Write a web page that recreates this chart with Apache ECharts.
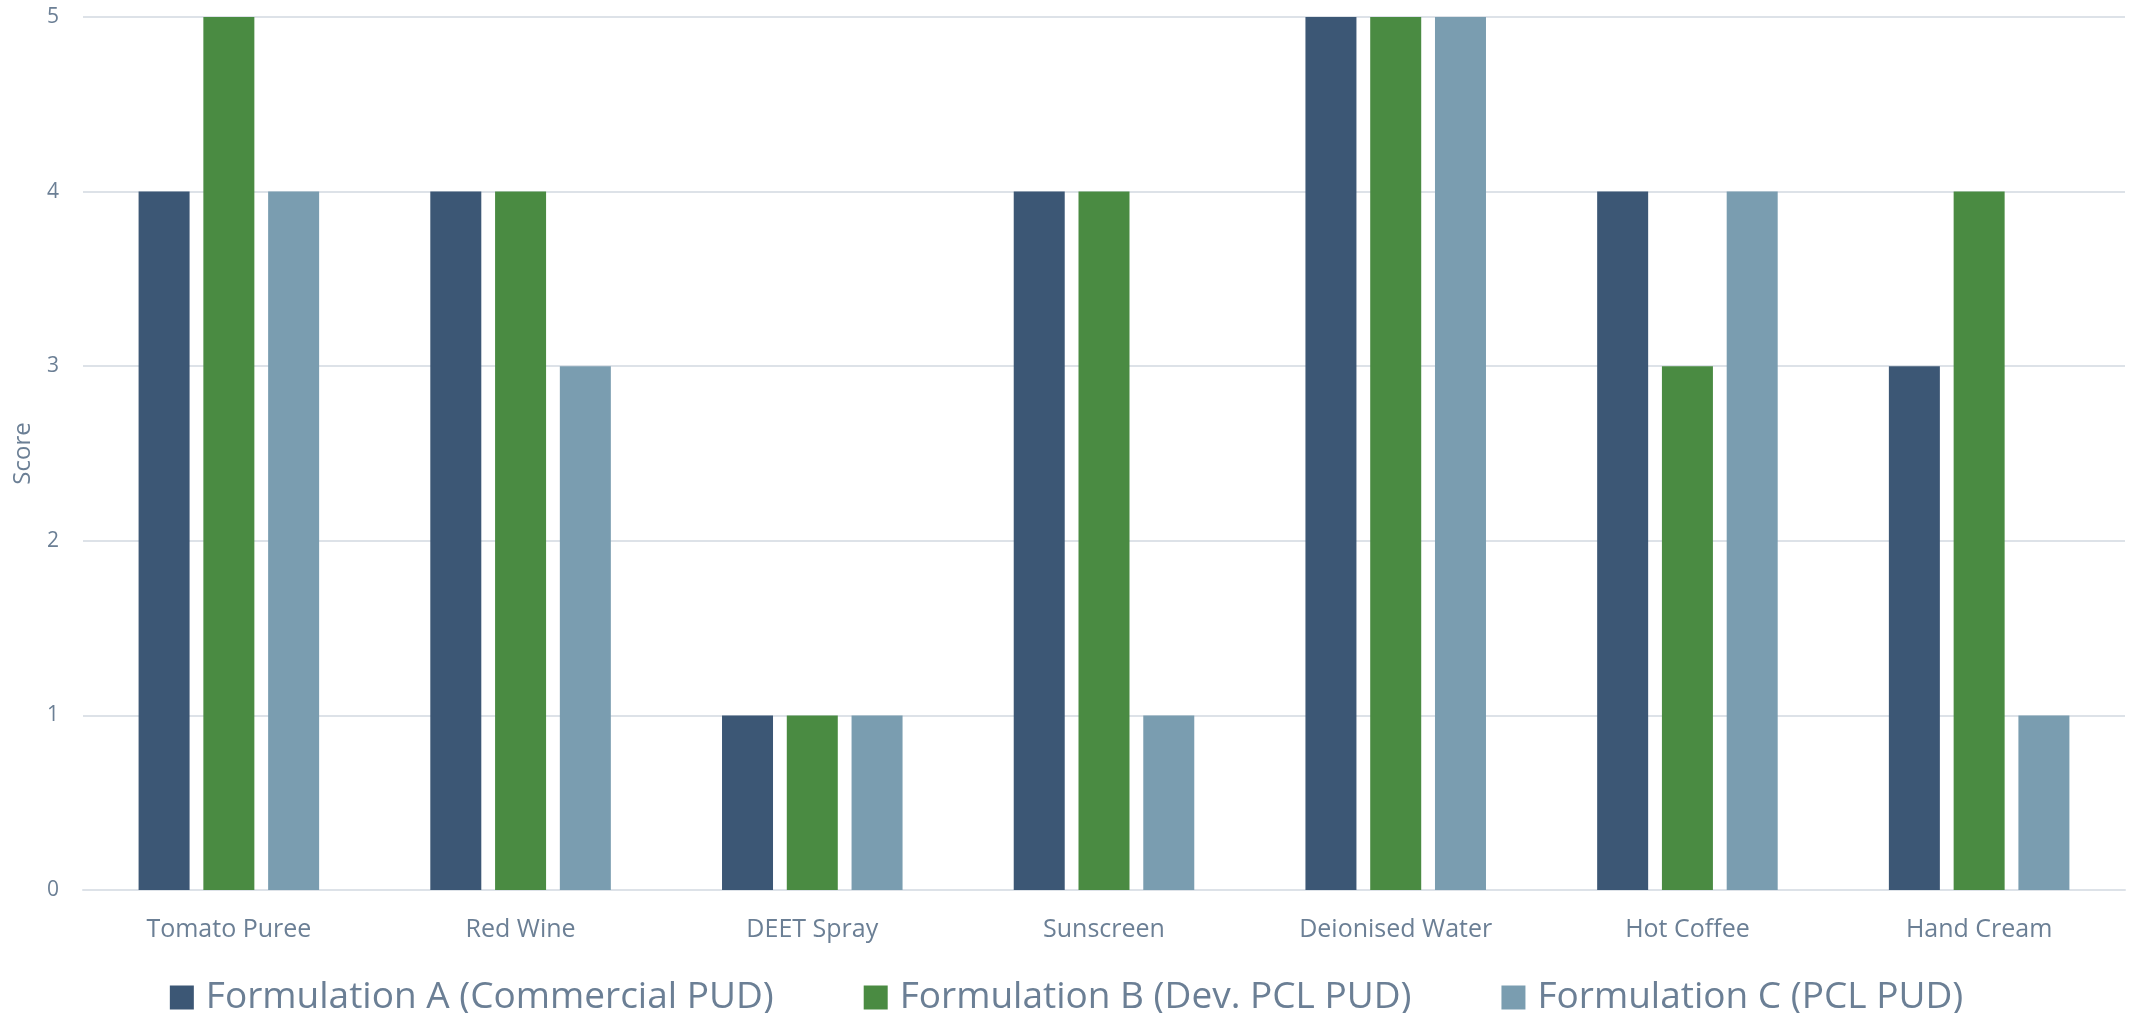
<!DOCTYPE html>
<html>
<head>
<meta charset="utf-8">
<script src="https://cdn.jsdelivr.net/npm/echarts@6/dist/echarts.min.js"></script>
<style>
  html, body { margin: 0; padding: 0; background: #ffffff; }
  #chart { width: 2133px; height: 1013px; }
</style>
</head>
<body>
<div id="chart"></div>
<script>
// Stain-resistance scores per test substance
const categories = ['Tomato Puree', 'Red Wine', 'DEET Spray', 'Sunscreen', 'Deionised Water', 'Hot Coffee', 'Hand Cream'];
const formulationA = [4, 4, 1, 4, 5, 4, 3];
const formulationB = [5, 4, 1, 4, 5, 3, 4];
const formulationC = [4, 3, 1, 1, 5, 4, 1];
const seriesNames = ['Formulation A (Commercial PUD)', 'Formulation B (Dev. PCL PUD)', 'Formulation C (PCL PUD)'];
const yTicks = [0, 1, 2, 3, 4, 5];

const textColor = '#6B7F95';
const fontFamily = '"Open Sans", "Noto Sans", sans-serif';

const chart = echarts.init(document.getElementById('chart'), null, { renderer: 'canvas' });

const seriesData = [formulationA, formulationB, formulationC];
const colors = ['#3C5775', '#4A8B42', '#7A9DB0'];

chart.setOption({
  animation: false,
  backgroundColor: '#ffffff',
  textStyle: { fontFamily: fontFamily },
  grid: { left: 83, right: 8, top: 17, bottom: 123, containLabel: false, outerBoundsMode: 'none' },
  legend: {
    top: 974,
    left: 'center',
    itemWidth: 24,
    itemHeight: 24,
    itemGap: 90,
    icon: 'rect',
    textStyle: { color: textColor, fontSize: 37, fontFamily: fontFamily, padding: [0, 0, 0, 7] },
    data: seriesNames
  },
  xAxis: {
    type: 'category',
    data: categories,
    axisLine: { show: true, lineStyle: { color: '#DDE2E8', width: 2 } },
    axisTick: { show: false },
    axisLabel: { color: textColor, fontSize: 25, margin: 27, fontFamily: fontFamily }
  },
  yAxis: {
    type: 'value',
    min: yTicks[0],
    max: yTicks[yTicks.length - 1],
    interval: 1,
    name: 'Score',
    nameLocation: 'middle',
    nameGap: 48,
    nameTextStyle: { color: textColor, fontSize: 24, fontFamily: fontFamily },
    axisLine: { show: false },
    axisTick: { show: false },
    axisLabel: { color: textColor, fontSize: 21, margin: 24, fontFamily: fontFamily },
    splitLine: { lineStyle: { color: '#DDE2E8', width: 2 } }
  },
  series: seriesData.map((d, i) => ({
    name: seriesNames[i],
    type: 'bar',
    data: d,
    barWidth: 51,
    barGap: '27%',
    itemStyle: { color: colors[i] }
  }))
});
</script>
</body>
</html>
